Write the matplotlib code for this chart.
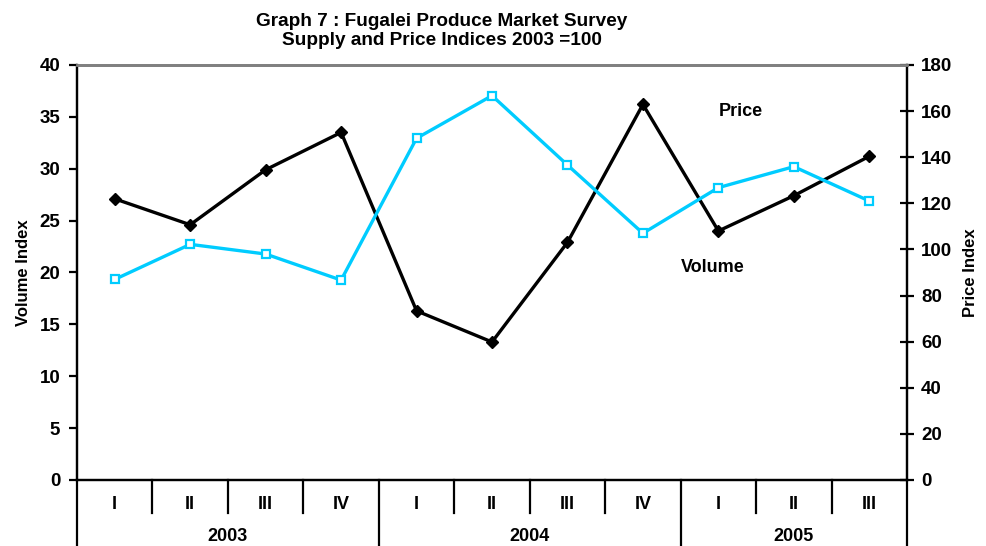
import matplotlib
matplotlib.use("Agg")
import matplotlib.pyplot as plt

plt.rcParams["font.family"] = ["Liberation Sans", "DejaVu Sans"]
plt.rcParams["font.weight"] = "bold"

quarters = ["I", "II", "III", "IV", "I", "II", "III", "IV", "I", "II", "III"]
years = ["2003", "2004", "2005"]
year_counts = [4, 4, 3]

# black line, left axis
volume = [27.1, 24.6, 29.9, 33.5, 16.3, 13.3, 22.9, 36.2, 24.0, 27.4, 31.2]
# cyan line, right axis
price = [87.0, 102.2, 98.0, 86.7, 148.2, 166.7, 136.6, 107.0, 126.8, 135.9, 121.0]

CYAN = "#00CCFF"

fig = plt.figure(figsize=(9.86, 5.46), dpi=100)
ax = fig.add_axes([0.0781, 0.1209, 0.8418, 0.7601])
ax2 = ax.twinx()

x = list(range(len(quarters)))
ax.plot(x, volume, color="black", linewidth=2.4, marker="D", markersize=6,
        zorder=3)
ax2.plot(x, price, color=CYAN, linewidth=2.4, marker="s", markersize=6,
         markerfacecolor="white", markeredgecolor=CYAN, markeredgewidth=1.6,
         zorder=3)

ax.set_xlim(-0.5, len(quarters) - 0.5)
ax.set_ylim(0, 40)
ax2.set_ylim(0, 180)
ax.set_yticks(range(0, 41, 5))
ax2.set_yticks(range(0, 181, 20))
ax.set_xticks([])

for a in (ax, ax2):
    a.spines["top"].set_color("#808080")
    a.spines["top"].set_linewidth(2)
    for s in ("left", "right", "bottom"):
        a.spines[s].set_linewidth(1.6)
        a.spines[s].set_color("black")

ax.tick_params(axis="y", direction="out", length=6, width=1.6,
               labelsize=13.5, pad=6)
ax2.tick_params(axis="y", direction="inout", length=10, width=1.6,
                labelsize=13.5, pad=5)

ax.set_ylabel("Volume Index", fontsize=12, fontweight="bold", labelpad=6)
ax2.set_ylabel("Price Index", fontsize=12, fontweight="bold", labelpad=8)

# category axis below the plot
trans = ax.get_xaxis_transform()
q_depth = -0.0795
y_depth = -0.16
for i, q in enumerate(quarters):
    ax.text(i, -0.058, q, transform=trans, ha="center", va="center",
            fontsize=13, fontweight="bold")
bounds = [0]
for c in year_counts:
    bounds.append(bounds[-1] + c)
for i in range(1, len(quarters)):
    depth = y_depth if i in bounds else q_depth
    ax.plot([i - 0.5, i - 0.5], [0, depth], transform=trans, color="black",
            linewidth=1.6, clip_on=False)
for edge in (-0.5, len(quarters) - 0.5):
    ax.plot([edge, edge], [0, y_depth], transform=trans, color="black",
            linewidth=1.6, clip_on=False)
for yr, a, b in zip(years, bounds[:-1], bounds[1:]):
    ax.text((a + b - 1) / 2, -0.137, yr, transform=trans, ha="center",
            va="center", fontsize=13, fontweight="bold")

ax.text(8.3, 35.5, "Price", ha="center", va="center", fontsize=13,
        fontweight="bold")
ax.text(7.93, 20.5, "Volume", ha="center", va="center", fontsize=13,
        fontweight="bold")

fig.text(0.448, 0.943, "Graph 7 : Fugalei Produce Market Survey\n"
         "Supply and Price Indices 2003 =100", ha="center", va="center",
         fontsize=13.7, fontweight="bold", linespacing=1.2)

fig.savefig("out.png", dpi=100)
